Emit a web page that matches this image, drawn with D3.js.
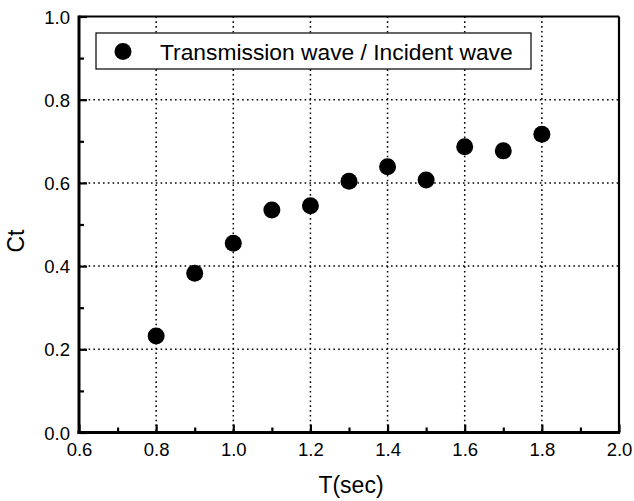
<!DOCTYPE html>
<html><head><meta charset="utf-8">
<script src="https://cdn.jsdelivr.net/npm/d3@7"></script>
<style>html,body{margin:0;padding:0;background:#fff;}svg{display:block;font-family:"Liberation Sans",Arial,sans-serif;}</style>
</head><body>
<svg id="c" width="634" height="501"></svg>
<script>
const periods = [0.8, 0.9, 1.0, 1.1, 1.2, 1.3, 1.4, 1.5, 1.6, 1.7, 1.8];
const ctValues = [0.232, 0.383, 0.455, 0.535, 0.545, 0.604, 0.639, 0.607, 0.687, 0.677, 0.717];
const xTicks = [0.6, 0.8, 1.0, 1.2, 1.4, 1.6, 1.8, 2.0];
const yTicks = [0.0, 0.2, 0.4, 0.6, 0.8, 1.0];
const xMinor = [0.7, 0.9, 1.1, 1.3, 1.5, 1.7, 1.9];
const yMinor = [0.1, 0.3, 0.5, 0.7, 0.9];
const seriesName = "Transmission wave / Incident wave";
const xTitle = "T(sec)";
const yTitle = "Ct";

const svg = d3.select("#c");
const L = 79, R = 619, T = 16.5, B = 432.5;
const x = d3.scaleLinear().domain([0.6, 2.0]).range([L, R]);
const y = d3.scaleLinear().domain([0, 1]).range([B, T]);

// grid
const grid = svg.append("g").attr("stroke", "#000").attr("stroke-width", 1.5).attr("stroke-dasharray", "1.6,3.2");
grid.selectAll("line.gx").data(xTicks.filter(d => d > 0.6 && d < 2.0)).join("line")
  .attr("x1", d => x(d)).attr("x2", d => x(d)).attr("y1", T).attr("y2", B);
grid.selectAll("line.gy").data(yTicks.filter(d => d > 0 && d < 1)).join("line")
  .attr("x1", L).attr("x2", R).attr("y1", d => y(d)).attr("y2", d => y(d));

// axes via d3 axis (inward ticks)
const fmt = d3.format(".1f");
const xAxis = svg.append("g").attr("transform", `translate(0,${B})`)
  .call(d3.axisBottom(x).tickValues(xTicks).tickFormat(fmt).tickSizeInner(-8).tickSizeOuter(0).tickPadding(18));
const xAxisMinor = svg.append("g").attr("transform", `translate(0,${B})`)
  .call(d3.axisBottom(x).tickValues(xMinor).tickFormat("").tickSizeInner(-5).tickSizeOuter(0));
const yAxis = svg.append("g").attr("transform", `translate(${L},0)`)
  .call(d3.axisLeft(y).tickValues(yTicks).tickFormat(fmt).tickSizeInner(-8).tickSizeOuter(0).tickPadding(18));
const yAxisMinor = svg.append("g").attr("transform", `translate(${L},0)`)
  .call(d3.axisLeft(y).tickValues(yMinor).tickFormat("").tickSizeInner(-5).tickSizeOuter(0));
[xAxis, xAxisMinor, yAxis, yAxisMinor].forEach(g => {
  g.select(".domain").remove();
  g.selectAll(".tick line").attr("stroke", "#000").attr("stroke-width", 2.2);
  g.selectAll("text").attr("fill", "#000").attr("font-size", 18.5).attr("font-family", "Liberation Sans, Arial, sans-serif");
});
xAxis.selectAll("text").attr("dy", "0.71em").attr("y", 10);
yAxis.selectAll("text").attr("x", -9).attr("dy", "0.36em");

// frame
svg.append("line").attr("x1", L).attr("x2", R).attr("y1", T).attr("y2", T).attr("stroke", "#000").attr("stroke-width", 2);
svg.append("line").attr("x1", R).attr("x2", R).attr("y1", T).attr("y2", B).attr("stroke", "#000").attr("stroke-width", 2.2);
svg.append("line").attr("x1", L).attr("x2", L).attr("y1", T - 1).attr("y2", B + 1.5).attr("stroke", "#000").attr("stroke-width", 3);
svg.append("line").attr("x1", L - 1.5).attr("x2", R + 1).attr("y1", B).attr("y2", B).attr("stroke", "#000").attr("stroke-width", 3);

// points
svg.append("g").selectAll("circle").data(periods.map((p, i) => [p, ctValues[i]])).join("circle")
  .attr("cx", d => x(d[0])).attr("cy", d => y(d[1])).attr("r", 8.5).attr("fill", "#000");

// legend
const lg = svg.append("g");
lg.append("rect").attr("x", 96).attr("y", 33).attr("width", 435).attr("height", 36)
  .attr("fill", "#fff").attr("stroke", "#000").attr("stroke-width", 1.2);
lg.append("circle").attr("cx", 123).attr("cy", 51.5).attr("r", 8.5).attr("fill", "#000");
lg.append("text").attr("x", 160).attr("y", 59.5).attr("font-size", 22.8).attr("fill", "#000").text(seriesName);

// titles
svg.append("text").attr("x", 351).attr("y", 493).attr("text-anchor", "middle").attr("font-size", 23).attr("fill", "#000").text(xTitle);
svg.append("text").attr("transform", "translate(24,241) rotate(-90)").attr("text-anchor", "middle").attr("font-size", 23).attr("fill", "#000").text(yTitle);
</script>
</body></html>
